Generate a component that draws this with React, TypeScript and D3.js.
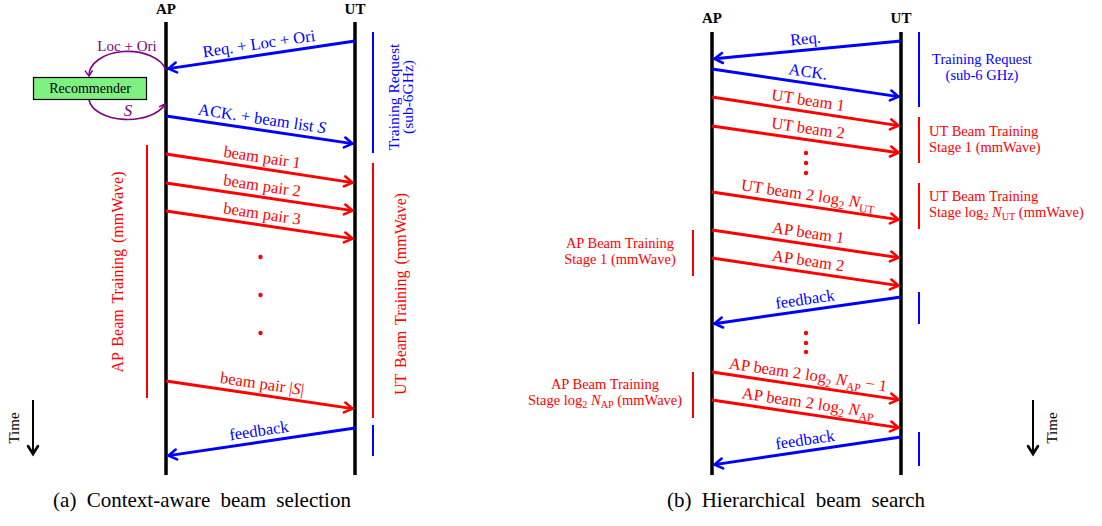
import React from "react";
import * as d3 from "d3";

type Seg = string | { t: string; it?: boolean; sub?: boolean };
type Msg = { from: "AP" | "UT"; t0: number; t1: number; color: string; label: Seg[] };
type Bracket = { side: "AP" | "UT"; t0: number; t1: number; color: string };

const BLUE = "#0000ff";
const RED = "#ff0000";
const PURPLE = "#800080";
const FONT = "'Liberation Serif', 'Times New Roman', serif";

const actors = ["AP", "UT"];

// ---- Panel (a): context-aware beam selection ----
const msgsA: Msg[] = [
  { from: "UT", t0: 41, t1: 69, color: BLUE, label: ["Req. + Loc + Ori"] },
  { from: "AP", t0: 116, t1: 144, color: BLUE, label: ["ACK. + beam list ", { t: "S", it: true }] },
  { from: "AP", t0: 154, t1: 183, color: RED, label: ["beam pair 1"] },
  { from: "AP", t0: 183, t1: 211, color: RED, label: ["beam pair 2"] },
  { from: "AP", t0: 211, t1: 239, color: RED, label: ["beam pair 3"] },
  { from: "AP", t0: 381, t1: 409, color: RED, label: ["beam pair |", { t: "S", it: true }, "|"] },
  { from: "UT", t0: 428, t1: 456, color: BLUE, label: ["feedback"] },
];
const dotsA = [257, 295, 333];
const bracketsA: Bracket[] = [
  { side: "UT", t0: 32, t1: 153, color: BLUE },
  { side: "UT", t0: 163, t1: 418, color: RED },
  { side: "UT", t0: 425, t1: 456, color: BLUE },
  { side: "AP", t0: 145, t1: 398, color: RED },
];

// ---- Panel (b): hierarchical beam search ----
const msgsB: Msg[] = [
  { from: "UT", t0: 41, t1: 59, color: BLUE, label: ["Req."] },
  { from: "AP", t0: 69, t1: 97, color: BLUE, label: ["ACK."] },
  { from: "AP", t0: 97, t1: 126, color: RED, label: ["UT beam 1"] },
  { from: "AP", t0: 126, t1: 153, color: RED, label: ["UT beam 2"] },
  { from: "AP", t0: 192, t1: 220, color: RED, label: ["UT beam 2 log", { t: "2", sub: true }, " ", { t: "N", it: true }, { t: "UT", sub: true }] },
  { from: "AP", t0: 230, t1: 258, color: RED, label: ["AP beam 1"] },
  { from: "AP", t0: 258, t1: 286, color: RED, label: ["AP beam 2"] },
  { from: "UT", t0: 297, t1: 324, color: BLUE, label: ["feedback"] },
  { from: "AP", t0: 372, t1: 400, color: RED, label: ["AP beam 2 log", { t: "2", sub: true }, " ", { t: "N", it: true }, { t: "AP", sub: true }, " − 1"] },
  { from: "AP", t0: 400, t1: 428, color: RED, label: ["AP beam 2 log", { t: "2", sub: true }, " ", { t: "N", it: true }, { t: "AP", sub: true }] },
  { from: "UT", t0: 437, t1: 465, color: BLUE, label: ["feedback"] },
];
const dotsB = [153, 163, 173, 333, 343, 352];
const bracketsB: Bracket[] = [
  { side: "UT", t0: 32, t1: 107, color: BLUE },
  { side: "UT", t0: 117, t1: 163, color: RED },
  { side: "UT", t0: 183, t1: 229, color: RED },
  { side: "UT", t0: 292, t1: 324, color: BLUE },
  { side: "UT", t0: 432, t1: 466, color: BLUE },
  { side: "AP", t0: 230, t1: 276, color: RED },
  { side: "AP", t0: 372, t1: 418, color: RED },
];
const sideTextB: { x: number; y: number; anchor: string; color: string; lines: Seg[][] }[] = [
  { x: 982, y: 64, anchor: "middle", color: BLUE, lines: [["Training Request"], ["(sub-6 GHz)"]] },
  { x: 929, y: 136, anchor: "start", color: RED, lines: [["UT Beam Training"], ["Stage 1 (mmWave)"]] },
  { x: 929, y: 201, anchor: "start", color: RED, lines: [["UT Beam Training"], ["Stage ", "log", { t: "2", sub: true }, " ", { t: "N", it: true }, { t: "UT", sub: true }, " (mmWave)"]] },
  { x: 620, y: 248, anchor: "middle", color: RED, lines: [["AP Beam Training"], ["Stage 1 (mmWave)"]] },
  { x: 605, y: 389, anchor: "middle", color: RED, lines: [["AP Beam Training"], ["Stage ", "log", { t: "2", sub: true }, " ", { t: "N", it: true }, { t: "AP", sub: true }, " (mmWave)"]] },
];

const y = d3.scaleLinear().domain([0, 526]).range([0, 526]);

function Rich({ segs, subShift = 4 }: { segs: Seg[]; subShift?: number }) {
  let shift = 0;
  return (
    <>
      {segs.map((s, i) => {
        const seg = typeof s === "string" ? { t: s } : s;
        const target = seg.sub ? subShift : 0;
        const dy = target - shift;
        shift = target;
        return (
          <tspan key={i} dy={dy !== 0 ? dy : undefined} fontStyle={seg.it ? "italic" : undefined} fontSize={seg.sub ? "70%" : undefined}>
            {seg.t}
          </tspan>
        );
      })}
    </>
  );
}

function Markers() {
  const cols: [string, string][] = [["blue", BLUE], ["red", RED], ["black", "#000"], ["purple", PURPLE]];
  return (
    <defs>
      {cols.map(([n, c]) => (
        <marker key={n} id={`arr-${n}`} markerUnits="userSpaceOnUse" markerWidth={20} markerHeight={20} refX={0} refY={0} viewBox="-10 -10 20 20" orient="auto" overflow="visible">
          <path d={n === "purple" ? "M-5,-3.5 L0,0 L-5,3.5" : "M-8,-5 L0,0 L-8,5"} fill="none" stroke={c} strokeWidth={n === "purple" ? 1.5 : 2.6} strokeLinecap="round" strokeLinejoin="miter" />
        </marker>
      ))}
    </defs>
  );
}

const colName = (c: string) => (c === BLUE ? "blue" : c === RED ? "red" : c === PURPLE ? "purple" : "black");

function Panel({ apX, utX, top, headY, msgs, dots, brackets }: { apX: number; utX: number; top: number; headY: number; msgs: Msg[]; dots: number[]; brackets: Bracket[] }) {
  const xs = d3.scalePoint<string>().domain(actors).range([apX, utX]);
  const bottom = 475;
  return (
    <g>
      {actors.map((a) => (
        <g key={a}>
          <text x={xs(a)} y={headY} textAnchor="middle" fontWeight="bold" fontSize={15}>{a}</text>
          <line x1={xs(a)} x2={xs(a)} y1={y(top)} y2={y(bottom)} stroke="#000" strokeWidth={3.5} />
        </g>
      ))}
      {brackets.map((b, i) => {
        const bx = b.side === "UT" ? (xs("UT") as number) + 18 : (xs("AP") as number) - 19;
        return <line key={i} x1={bx} x2={bx} y1={y(b.t0)} y2={y(b.t1)} stroke={b.color} strokeWidth={2} />;
      })}
      {msgs.map((m, i) => {
        const to = m.from === "AP" ? "UT" : "AP";
        const x0 = xs(m.from) as number;
        const x1raw = xs(to) as number;
        const dir = x1raw > x0 ? 1 : -1;
        const x1 = x1raw - dir * 2.5;
        const y0 = y(m.t0);
        const y1 = y(m.t1);
        const lx = Math.min(x0, x1raw), rx = Math.max(x0, x1raw);
        const ly = x0 < x1raw ? y0 : y1, ry = x0 < x1raw ? y1 : y0;
        const ang = (Math.atan2(ry - ly, rx - lx) * 180) / Math.PI;
        const mx = (x0 + x1raw) / 2, my = (y0 + y1) / 2;
        return (
          <g key={i}>
            <line x1={x0} y1={y0} x2={x1} y2={y1 - (y1 - y0) * (2.5 / Math.abs(x1raw - x0))} stroke={m.color} strokeWidth={3} markerEnd={`url(#arr-${colName(m.color)})`} />
            <text transform={`translate(${mx},${my}) rotate(${ang})`} y={-6} textAnchor="middle" fill={m.color} fontSize={16.5} style={{ whiteSpace: "pre" }}>
              <Rich segs={m.label} />
            </text>
          </g>
        );
      })}
      {dots.map((d, i) => (
        <circle key={i} cx={(apX + utX) / 2 + (apX < 500 ? 0 : -0.5)} cy={y(d)} r={2.2} fill={RED} />
      ))}
    </g>
  );
}

function TimeArrow({ x, textX }: { x: number; textX: number }) {
  return (
    <g>
      <line x1={x} x2={x} y1={400} y2={454} stroke="#000" strokeWidth={2} markerEnd="url(#arr-black)" />
      <text transform={`translate(${textX},428) rotate(-90)`} textAnchor="middle" fontSize={15}>Time</text>
    </g>
  );
}

export default function App() {
  return (
    <svg width={1102} height={526} style={{ position: "absolute", left: 0, top: 0, background: "#fff" }} fontFamily={FONT}>
      <Markers />
      <rect x={0} y={0} width={1102} height={526} fill="#fff" />

      {/* Panel (a) */}
      <Panel apX={166} utX={355} top={22} headY={14} msgs={msgsA} dots={dotsA} brackets={bracketsA} />
      {/* Recommender loop */}
      <path d="M166,70 A39,24 0 0 0 89,76" fill="none" stroke={PURPLE} strokeWidth={1.6} markerEnd="url(#arr-purple)" />
      <path d="M89,100 A39,22 0 0 0 165,104" fill="none" stroke={PURPLE} strokeWidth={1.6} markerEnd="url(#arr-purple)" />
      <rect x={33.5} y={77.5} width={113} height={22} fill="#80f080" stroke="#000" strokeWidth={1.2} />
      <text x={90} y={93} textAnchor="middle" fontSize={14}>Recommender</text>
      <text x={127} y={51} textAnchor="middle" fontSize={15} fill={PURPLE}>Loc + Ori</text>
      <text x={128} y={116} textAnchor="middle" fontSize={17} fill={PURPLE} fontStyle="italic">S</text>
      {/* rotated side labels */}
      <text transform="translate(399,97) rotate(-90)" textAnchor="middle" fontSize={15.5} fill={BLUE}>
        <tspan x={0} dy={0}>Training Request</tspan>
        <tspan x={0} dy={13.5}>(sub-6GHz)</tspan>
      </text>
      <text transform="translate(406,294) rotate(-90)" textAnchor="middle" fontSize={16} fill={RED} wordSpacing={2}>UT Beam Training (mmWave)</text>
      <text transform="translate(123,272) rotate(-90)" textAnchor="middle" fontSize={16} fill={RED} wordSpacing={2}>AP Beam Training (mmWave)</text>
      <TimeArrow x={33} textX={19} />
      <text x={202} y={507} textAnchor="middle" fontSize={21} wordSpacing={5}>(a) Context-aware beam selection</text>

      {/* Panel (b) */}
      <Panel apX={712} utX={901} top={32} headY={23} msgs={msgsB} dots={dotsB} brackets={bracketsB} />
      {sideTextB.map((s, i) => (
        <g key={i}>
          {s.lines.map((ln, j) => (
            <text key={j} x={s.x} y={s.y + j * 15.5} textAnchor={s.anchor} fontSize={14.5} fill={s.color} style={{ whiteSpace: "pre" }}>
              <Rich segs={ln} subShift={3} />
            </text>
          ))}
        </g>
      ))}
      <TimeArrow x={1033} textX={1057} />
      <text x={796} y={507} textAnchor="middle" fontSize={21} wordSpacing={5}>(b) Hierarchical beam search</text>
    </svg>
  );
}
